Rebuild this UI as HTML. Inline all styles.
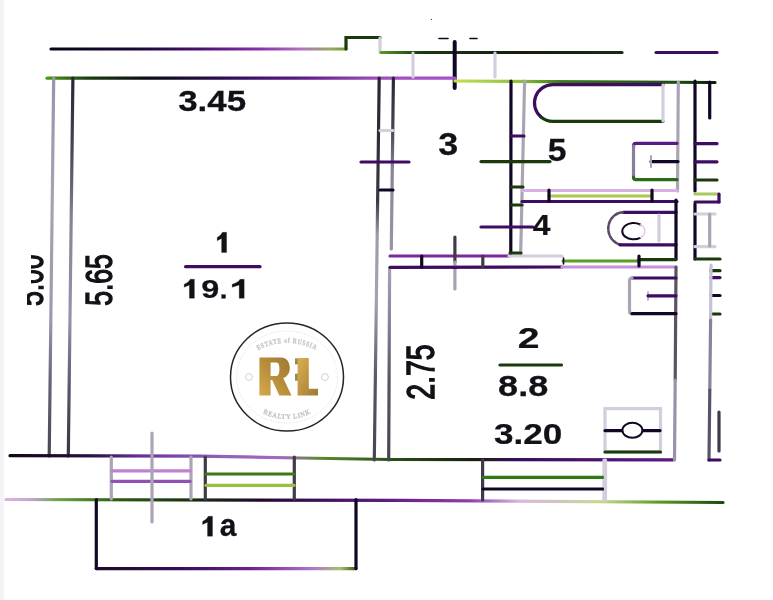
<!DOCTYPE html>
<html><head><meta charset="utf-8">
<style>
html,body{margin:0;padding:0;background:#fff;}
body{width:773px;height:600px;overflow:hidden;position:relative;}
svg{position:absolute;left:0;top:0;}
text{font-family:"Liberation Sans",sans-serif;font-weight:bold;}
.k{stroke:#120626;}
.p{stroke:#3e0c60;}
.g{stroke:#1a3a0c;}
.m{stroke:#403a48;}
.l{stroke:#aaa4b4;}
.f{stroke:#d2cedc;}
</style></head>
<body>
<svg width="773" height="600" viewBox="0 0 773 600">
<defs>
<filter id="bl" x="-5%" y="-5%" width="110%" height="110%" color-interpolation-filters="sRGB"><feGaussianBlur stdDeviation="0.65"/></filter>
<linearGradient id="gR" x1="0" y1="1" x2="1" y2="0"><stop offset="0" stop-color="#d6aa4a"/><stop offset="0.6" stop-color="#b08838"/><stop offset="1" stop-color="#9c7a34"/></linearGradient>
<linearGradient id="gL" x1="0" y1="0" x2="1" y2="1"><stop offset="0" stop-color="#dcb050"/><stop offset="1" stop-color="#9e7a32"/></linearGradient>
<linearGradient id="gTop" gradientUnits="userSpaceOnUse" x1="51" y1="0" x2="346" y2="0"><stop offset="0.000" stop-color="#0a0418"/><stop offset="0.302" stop-color="#1a0838"/><stop offset="0.505" stop-color="#4a1070"/><stop offset="0.708" stop-color="#8a30a8"/><stop offset="0.844" stop-color="#b070c0"/><stop offset="0.946" stop-color="#98a860"/><stop offset="1.000" stop-color="#70a040"/></linearGradient>
<linearGradient id="g78" gradientUnits="userSpaceOnUse" x1="47" y1="0" x2="455" y2="0"><stop offset="0.000" stop-color="#4a9a18"/><stop offset="0.105" stop-color="#1a3a10"/><stop offset="0.252" stop-color="#0c0a18"/><stop offset="0.424" stop-color="#2a0c50"/><stop offset="0.620" stop-color="#5a1a88"/><stop offset="0.816" stop-color="#a050c0"/><stop offset="1.000" stop-color="#a850c8"/></linearGradient>
<linearGradient id="g81" gradientUnits="userSpaceOnUse" x1="455" y1="0" x2="715" y2="0"><stop offset="0.000" stop-color="#c0e050"/><stop offset="0.250" stop-color="#90c040"/><stop offset="0.404" stop-color="#3a7a18"/><stop offset="0.865" stop-color="#1a4a10"/><stop offset="1.000" stop-color="#0a1a08"/></linearGradient>
<linearGradient id="g52" gradientUnits="userSpaceOnUse" x1="380" y1="0" x2="622" y2="0"><stop offset="0.000" stop-color="#5a9a20"/><stop offset="0.165" stop-color="#1a3a10"/><stop offset="0.579" stop-color="#141c10"/><stop offset="1.000" stop-color="#1a2a10"/></linearGradient>
<linearGradient id="g456" gradientUnits="userSpaceOnUse" x1="10" y1="0" x2="673" y2="0"><stop offset="0.000" stop-color="#100818"/><stop offset="0.121" stop-color="#281040"/><stop offset="0.196" stop-color="#6a3098"/><stop offset="0.317" stop-color="#9060b8"/><stop offset="0.407" stop-color="#a868c0"/><stop offset="0.468" stop-color="#5a8a30"/><stop offset="0.573" stop-color="#2a5018"/><stop offset="0.694" stop-color="#1a2010"/><stop offset="0.769" stop-color="#3a0c60"/><stop offset="1.000" stop-color="#5a1a80"/></linearGradient>
<linearGradient id="g500" gradientUnits="userSpaceOnUse" x1="5" y1="0" x2="723" y2="0"><stop offset="0.000" stop-color="#e0b0e8"/><stop offset="0.035" stop-color="#c0a8d0"/><stop offset="0.077" stop-color="#6aa040"/><stop offset="0.160" stop-color="#2a5a14"/><stop offset="0.272" stop-color="#1a2a10"/><stop offset="0.355" stop-color="#240830"/><stop offset="0.522" stop-color="#5a1a80"/><stop offset="0.648" stop-color="#9040b0"/><stop offset="0.717" stop-color="#d8b8e0"/><stop offset="0.829" stop-color="#c8d890"/><stop offset="0.912" stop-color="#5a9a20"/><stop offset="1.000" stop-color="#1a4a10"/></linearGradient>
<linearGradient id="gV1" gradientUnits="userSpaceOnUse" x1="0" y1="78" x2="0" y2="460"><stop offset="0.000" stop-color="#2a2434"/><stop offset="0.319" stop-color="#3a3444"/><stop offset="0.411" stop-color="#a09aac"/><stop offset="0.581" stop-color="#a8a0b4"/><stop offset="0.791" stop-color="#5a5266"/><stop offset="1.000" stop-color="#4a4452"/></linearGradient>
<linearGradient id="gV2" gradientUnits="userSpaceOnUse" x1="0" y1="78" x2="0" y2="249"><stop offset="0.000" stop-color="#2a2434"/><stop offset="0.304" stop-color="#4a4454"/><stop offset="0.538" stop-color="#8a8296"/><stop offset="1.000" stop-color="#9a92a6"/></linearGradient>
<linearGradient id="gV3" gradientUnits="userSpaceOnUse" x1="0" y1="268" x2="0" y2="460"><stop offset="0.000" stop-color="#a8a0b4"/><stop offset="0.271" stop-color="#8a8296"/><stop offset="0.583" stop-color="#5a5264"/><stop offset="1.000" stop-color="#4a4452"/></linearGradient>
<linearGradient id="gVL1" gradientUnits="userSpaceOnUse" x1="0" y1="78" x2="0" y2="456"><stop offset="0.000" stop-color="#9a94a8"/><stop offset="0.323" stop-color="#a8a2b6"/><stop offset="0.640" stop-color="#a098ae"/><stop offset="0.799" stop-color="#6a6276"/><stop offset="1.000" stop-color="#4a4454"/></linearGradient>
<linearGradient id="gVL2" gradientUnits="userSpaceOnUse" x1="0" y1="78" x2="0" y2="456"><stop offset="0.000" stop-color="#2a2434"/><stop offset="0.190" stop-color="#4a4454"/><stop offset="0.376" stop-color="#8a8298"/><stop offset="0.640" stop-color="#9a92a8"/><stop offset="0.825" stop-color="#5a5266"/><stop offset="1.000" stop-color="#3a3444"/></linearGradient>
<linearGradient id="g568" gradientUnits="userSpaceOnUse" x1="96" y1="0" x2="356" y2="0"><stop offset="0.000" stop-color="#1a0a2a"/><stop offset="0.323" stop-color="#3a0c58"/><stop offset="0.592" stop-color="#6a2090"/><stop offset="0.823" stop-color="#b070c8"/><stop offset="0.938" stop-color="#a8c070"/><stop offset="1.000" stop-color="#3a5a20"/></linearGradient>
</defs>
<rect x="0" y="0" width="4" height="600" fill="#f4f4f8"/>
<g filter="url(#bl)" fill="none" stroke-width="3.2" stroke-linecap="round">
<!-- top outer -->
<line stroke="url(#gTop)" x1="51" y1="49" x2="346" y2="49"/>
<polyline class="g" points="346,49 346,37.5 380,37.5"/>
<line class="f" x1="380" y1="38" x2="380" y2="52"/>
<line stroke="url(#g52)" x1="381" y1="52.5" x2="622" y2="52.5"/>
<line class="p" x1="656" y1="52.5" x2="717" y2="52.5"/>
<line class="k" x1="439" y1="38.5" x2="448" y2="38.5" stroke-width="1.6"/>
<circle cx="431.4" cy="19.4" r="0.6" fill="#444" stroke="none"/>
<line class="k" x1="470" y1="38.5" x2="477" y2="38.5" stroke-width="1.6"/>
<line class="k" x1="454.7" y1="42" x2="454.7" y2="88" stroke-width="4"/>
<line stroke="url(#g78)" x1="47" y1="78.2" x2="455" y2="78.2"/>
<line stroke="url(#g81)" x1="455" y1="81" x2="715" y2="82.5"/>
<line class="f" x1="413" y1="53" x2="413" y2="77"/>
<line class="f" x1="495" y1="53" x2="495" y2="77"/>
<line class="k" x1="709.7" y1="82" x2="709.7" y2="118"/>
<!-- left walls room 1 -->
<line stroke="url(#gVL1)" x1="53.7" y1="78" x2="49.2" y2="456"/>
<line stroke="url(#gVL2)" x1="72.9" y1="78" x2="68.3" y2="456"/>
<polyline stroke="url(#g456)" points="10,455.7 200,456.1 300,458 390,459.5 673,459.8"/>
<polyline stroke="url(#g500)" points="6,499.5 400,500.4 723,502.5"/>
<line class="k" x1="96.3" y1="499.5" x2="96.3" y2="568.6"/>
<line stroke="url(#g568)" x1="96.3" y1="568.6" x2="356" y2="568.6"/>
<line class="k" x1="356" y1="568.6" x2="356" y2="499.5"/>
<!-- windows -->
<line class="l" x1="111.3" y1="457" x2="111.3" y2="499"/>
<line class="l" x1="191" y1="457" x2="191" y2="499"/>
<line stroke="#c080d4" x1="112" y1="470.8" x2="190" y2="470.8"/>
<line stroke="#9050b8" x1="112" y1="481.3" x2="190" y2="481.3"/>
<line class="l" x1="152" y1="433" x2="152" y2="522"/>
<line class="m" x1="205.3" y1="457" x2="205.3" y2="499"/>
<line class="m" x1="294.3" y1="457" x2="294.3" y2="499"/>
<line stroke="#3a7a14" x1="206" y1="474" x2="294" y2="474"/>
<line stroke="#98c040" x1="206" y1="485.3" x2="294" y2="485.3"/>
<line class="m" x1="482.6" y1="460" x2="482.6" y2="500"/>
<line class="f" x1="604" y1="460" x2="604" y2="500"/>
<line stroke="#2e7a14" x1="483" y1="477.3" x2="603" y2="477.3"/>
<line class="k" x1="483" y1="489" x2="603" y2="489"/>
<line class="f" x1="605.5" y1="460" x2="605.5" y2="500"/>
<!-- walls between room1 and corridor -->
<line stroke="url(#gV1)" x1="379.2" y1="78" x2="374.3" y2="460"/>
<line stroke="url(#gV2)" x1="393.4" y1="78" x2="391.3" y2="249"/>
<line stroke="url(#gV3)" x1="389.6" y1="268" x2="388.7" y2="460"/>
<line class="p" x1="361" y1="162" x2="409" y2="162"/>
<line class="k" x1="380" y1="190" x2="393" y2="190"/>
<line class="f" x1="380" y1="130.5" x2="393" y2="130.5"/>
<!-- corridor / bath -->
<line stroke="#7a28a0" x1="390" y1="256" x2="509" y2="256"/>
<line class="f" x1="509" y1="256" x2="562" y2="256"/>
<line class="p" x1="390" y1="267.3" x2="562" y2="267"/>
<line stroke="#c890d8" x1="562" y1="267" x2="676" y2="267"/>
<line class="k" x1="421.7" y1="256" x2="421.7" y2="267"/>
<line class="m" x1="482.8" y1="256" x2="482.8" y2="267"/>
<line class="m" x1="454.9" y1="237" x2="454.9" y2="262"/>
<line stroke="#a8a0b4" x1="454.9" y1="262" x2="454.9" y2="289"/>
<line class="p" x1="453" y1="267.3" x2="457" y2="267.3"/>
<line class="k" x1="511" y1="81" x2="510.8" y2="253"/>
<line class="l" x1="524.6" y1="81" x2="520.7" y2="253"/>
<line class="g" x1="511" y1="187" x2="523" y2="187"/>
<line class="g" x1="511" y1="205" x2="522" y2="205"/>
<line class="p" x1="511" y1="136" x2="524" y2="136"/>
<line class="g" x1="510" y1="253" x2="521" y2="253"/>
<line class="g" x1="481" y1="161.6" x2="550" y2="161.6"/>
<line class="p" x1="481" y1="227" x2="533" y2="227"/>
<!-- bathtub -->
<path class="p" d="M663,84.6 H553 A18.35,18.35 0 0 0 541,117"/>
<path class="g" d="M541,117 A18.35,18.35 0 0 0 553,121.3 H663"/>
<line class="f" x1="663" y1="85" x2="663" y2="121"/>
<line class="l" x1="678.3" y1="82" x2="677.5" y2="191"/>
<line class="k" x1="695" y1="81" x2="695" y2="191"/>
<!-- sink 1 -->
<path stroke="#5a1a80" d="M677,143.3 H636 Q633.5,143.3 633.5,146"/>
<path stroke="#8a7e9c" d="M633.5,146 V177"/>
<path stroke="#2a6a18" d="M633.5,177 Q633.5,179.7 636,179.7 H677"/>
<line class="k" x1="651" y1="161.6" x2="678" y2="161.6"/>
<line class="l" x1="651" y1="156" x2="651" y2="167" stroke-width="2"/>
<line class="p" x1="695" y1="143.7" x2="717" y2="143.7"/>
<line class="p" x1="695" y1="161.8" x2="717" y2="161.8"/>
<line class="g" x1="695" y1="180" x2="717" y2="180"/>
<!-- wall bath/toilet -->
<line stroke="#d8b0e4" x1="522" y1="190.5" x2="677" y2="190.5"/>
<line class="p" x1="522" y1="201.5" x2="677" y2="201.5"/>
<line stroke="#a8c850" x1="549" y1="196" x2="652" y2="196"/>
<line class="k" x1="549" y1="190" x2="549" y2="201"/>
<line class="k" x1="652" y1="190" x2="652" y2="201"/>
<line stroke="#a8c860" x1="695" y1="194" x2="719" y2="194"/>
<line class="p" x1="719" y1="194" x2="719" y2="202"/>
<line class="p" x1="695" y1="202" x2="719" y2="202"/>
<!-- toilet -->
<path class="p" d="M676,212.3 H623"/>
<path stroke="#5a4a6c" stroke-width="2.6" stroke-dasharray="3.5,1.8" d="M623,212.3 A15,16.3 0 0 0 621,244.7"/>
<path class="p" d="M620,244.8 H676"/>
<path class="k" d="M640.2,224.5 A11.3,8.2 0 1 0 640.2,237.8" stroke-width="2"/>
<path stroke="#e0b8e8" d="M640.2,224.5 A11.3,8.2 0 0 1 640.2,237.8" stroke-width="1.2"/>
<line class="f" x1="659" y1="215" x2="659" y2="241"/>
<line class="k" x1="676" y1="200" x2="676" y2="259"/>
<line stroke="#58a020" x1="563" y1="261" x2="639" y2="261" stroke-width="3"/>
<line class="g" x1="639" y1="259.6" x2="676" y2="259.6"/>
<line class="k" x1="639" y1="256" x2="639" y2="266"/>
<line class="k" x1="563.5" y1="258" x2="563.5" y2="264" stroke-width="1.6"/>
<line class="k" x1="695" y1="204" x2="695" y2="259"/>
<line class="g" x1="695" y1="259" x2="720" y2="259"/>
<line class="f" x1="695" y1="214" x2="715" y2="214"/>
<line class="f" x1="695" y1="246.6" x2="715" y2="246.6"/>
<line class="l" x1="709.7" y1="214" x2="709.7" y2="246"/>
<!-- right column -->
<line class="g" x1="711" y1="270.7" x2="720" y2="270.7"/>
<line class="p" x1="711" y1="277.6" x2="720" y2="277.6"/>
<line class="k" x1="711" y1="295.5" x2="720" y2="295.5"/>
<line class="g" x1="711" y1="314" x2="720" y2="314"/>
<line stroke="#c8c0d4" x1="711" y1="265" x2="710.6" y2="320"/>
<line stroke="#8a8298" x1="710.6" y1="320" x2="709.8" y2="390"/>
<line stroke="#5a5266" x1="709.8" y1="390" x2="709" y2="460"/>
<line class="p" x1="709" y1="460" x2="720" y2="460"/>
<line class="m" x1="719" y1="412" x2="719" y2="451"/>
<line stroke="#5a5264" x1="676" y1="267" x2="675.2" y2="380"/>
<line stroke="#9a92a8" x1="675.2" y1="380" x2="674.5" y2="460"/>
<!-- sink 2 -->
<line class="p" x1="676" y1="278" x2="632" y2="278"/>
<path class="l" d="M632,278 Q629.5,278 629.5,281 V311 Q629.5,313.7 632,313.7"/>
<line class="k" x1="632" y1="313.7" x2="676" y2="313.7"/>
<line class="l" x1="648" y1="292" x2="648" y2="300" stroke-width="1.6"/>
<line class="p" x1="648" y1="295.8" x2="676" y2="295.8"/>
<!-- sink 3 -->
<rect class="f" x="605" y="408.6" width="55.5" height="43.4"/>
<line class="g" x1="605" y1="452" x2="660.5" y2="452"/>
<line class="k" x1="605" y1="430.6" x2="660" y2="430.6"/>
<ellipse cx="632.4" cy="430.3" rx="10" ry="7.5" fill="#fff" class="k" stroke-width="2"/>
<!-- label leader lines -->
<line class="p" x1="185.6" y1="266.7" x2="260" y2="266.7"/>
<line class="g" x1="500" y1="365" x2="561.5" y2="365"/>
</g>
<!-- labels -->
<g filter="url(#bl)" fill="#141018" stroke="#141018" stroke-width="0.25">
<!--LBL-->
<text transform="translate(212.20,111.40) scale(1.166,1.006)" font-size="30" text-anchor="middle">3.45</text>
<text transform="translate(448.20,154.50) scale(1.198,1.034)" font-size="30" text-anchor="middle">3</text>
<text transform="translate(557.00,160.50) scale(1.120,1.034)" font-size="30" text-anchor="middle">5</text>
<text transform="translate(541.50,234.50) scale(1.056,0.954)" font-size="30" text-anchor="middle">4</text>
<text transform="translate(528.55,348.00) scale(1.304,0.988)" font-size="30" text-anchor="middle">2</text>
<text transform="translate(523.17,396.15) scale(1.203,1.005)" font-size="30" text-anchor="middle">8.8</text>
<text transform="translate(528.12,444.10) scale(1.171,0.988)" font-size="30" text-anchor="middle">3.20</text>
<text transform="translate(112.20,279.98) rotate(-90) scale(0.886,1.238)" font-size="30" text-anchor="middle" style="font-weight:normal" stroke-width="1.2">5.65</text>
<text transform="translate(433.60,371.98) rotate(-90) scale(0.948,1.322)" font-size="30" text-anchor="middle" style="font-weight:normal" stroke-width="1.2">2.75</text>
<!--/LBL-->
<path d="M226.6,232.3 V252.5 H221.6 V238.4 L217.2,240.8 V237.6 Q221.1,235.5 222.4,232.3 Z M194.4,279.3 V298.3 H189.4 V285.0 L184.2,287.3 V284.2 Q188.9,282.3 190.2,279.3 Z M244.2,279.3 V298.3 H239.2 V285.0 L232.2,287.3 V284.2 Q238.7,282.3 240.0,279.3 Z M212.5,516.2 V536.2 H207.5 V522.2 L202.6,524.6 V521.4 Q207.0,519.4 208.3,516.2 Z"/>
<text transform="translate(210.3,298.3) scale(1.08,0.88)" font-size="30" text-anchor="middle">9</text>
<rect x="221.6" y="294.6" width="4" height="3.8"/>
<text transform="translate(228.2,536.2) scale(1.0,1.05)" font-size="30" text-anchor="middle">a</text>

<clipPath id="cl"><rect x="31" y="240" width="30" height="80"/><rect x="27" y="286" width="10" height="30"/></clipPath>
<g clip-path="url(#cl)"><text transform="translate(42.6,280.2) rotate(-90) scale(0.886,1.238)" font-size="30" text-anchor="middle" style="font-weight:normal" stroke-width="1.2">5.00</text></g>
</g>
<!-- logo -->
<g>
<ellipse cx="287" cy="377" rx="56.5" ry="54" fill="#fff" stroke="#262626" stroke-width="1.5"/>
<ellipse cx="287" cy="377" rx="50.5" ry="46" fill="none" stroke="#d4d4d4" stroke-width="0.7" stroke-dasharray="1.2,1.4"/>
<circle cx="249" cy="377" r="3.4" fill="none" stroke="#cccccc" stroke-width="0.9"/>
<circle cx="325" cy="377" r="3.4" fill="none" stroke="#cccccc" stroke-width="0.9"/>
<path fill="url(#gR)" fill-rule="evenodd" d="M259.4,357.4 H281 C286.5,357.4 289.8,362 289.8,368 C289.8,373.5 286.8,376.8 283.2,378 L291.5,395.6 H279.3 L272.2,380 H270.6 V395.6 H259.4 Z M270.6,362.6 H276.6 C278.8,362.6 279.4,365.5 279.4,369.3 C279.4,373 278.6,376 276.4,376 H270.6 Z"/>
<path fill="url(#gL)" d="M297.6,357.9 H308.8 V388.8 H318 V395.6 H297.6 Z"/>
<rect x="295" y="358.4" width="2.8" height="6" fill="#a08648"/>
<rect x="295" y="373.7" width="2.8" height="7" fill="#a08648"/>
<path id="arcT" d="M245,360 A60,60 0 0 1 329,360" fill="none"/>
<text font-size="7.2" fill="#c2c2c2" stroke="#c8c8c8" stroke-width="0.3" style="font-family:'Liberation Serif',serif;font-weight:bold;letter-spacing:0.9px"><textPath href="#arcT" startOffset="50%" text-anchor="middle" textLength="60" lengthAdjust="spacingAndGlyphs">ESTATE of RUSSIA</textPath></text>
<path id="arcB" d="M250,404 A53,53 0 0 0 324,404" fill="none"/>
<text font-size="7.2" fill="#c2c2c2" stroke="#c8c8c8" stroke-width="0.3" style="font-family:'Liberation Serif',serif;font-weight:bold;letter-spacing:0.9px"><textPath href="#arcB" startOffset="50%" text-anchor="middle" textLength="50" lengthAdjust="spacingAndGlyphs">REALTY LINK</textPath></text>
</g>
</svg>
</body></html>
